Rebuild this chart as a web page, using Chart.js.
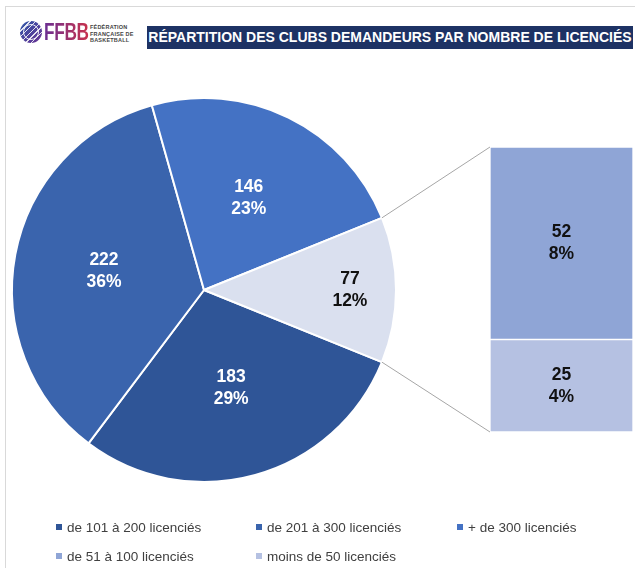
<!DOCTYPE html>
<html>
<head>
<meta charset="utf-8">
<script src="https://cdn.jsdelivr.net/npm/chart.js@4/dist/chart.umd.min.js"></script>
<style>
  body { margin: 0; background: #fff; }
  #wrap { position: relative; width: 635px; height: 568px; background: #fff; overflow: hidden; font-family: "Liberation Sans", Arial, sans-serif; }
  .frameTop { position: absolute; left: 5px; right: 0; top: 6px; height: 1px; background: #d9d9d9; }
  .frameLeft { position: absolute; left: 5px; top: 6px; bottom: 0; width: 1px; background: #d9d9d9; }
  .ball { position: absolute; left: 20px; top: 21px; width: 22px; height: 22px; border-radius: 50%;
    background: repeating-linear-gradient(135deg, rgba(255,255,255,0) 0 3px, rgba(255,255,255,.85) 3px 4px), linear-gradient(135deg, #2d57a8, #6b3192); }
  .ball::after { content: ""; position: absolute; left: 3px; top: 3px; width: 14px; height: 14px; border-radius: 50%; border: 1px solid rgba(255,255,255,.9); }
  .ffbb { position: absolute; left: 44px; top: 18px; font-weight: bold; font-size: 24px; letter-spacing: -0.5px;
    transform: scaleX(0.72); transform-origin: left top;
    background: linear-gradient(90deg, #6a2f93, #c8324c); -webkit-background-clip: text; background-clip: text; color: transparent; }
  .fed { position: absolute; left: 90px; top: 24px; font-size: 5.5px; font-weight: bold; line-height: 6.6px; color: #444; letter-spacing: .2px; }
  .title { position: absolute; left: 147px; top: 26px; width: 486px; height: 23px; background: #1d3264; color: #fff;
    font-weight: bold; font-size: 14px; line-height: 23px; text-align: center; white-space: nowrap; }
  #pie { position: absolute; left: 0; top: 0; }
  #bar { position: absolute; left: 490px; top: 147px; }
  #legend { position: absolute; left: 56px; top: 518px; display: grid; grid-template-columns: 200px 201px 170px; row-gap: 11px;
    font-size: 13.5px; color: #404040; }
  #legend div { display: flex; align-items: center; height: 18px; white-space: nowrap; }
  #legend span.box { width: 6px; height: 6px; margin-right: 5px; display: inline-block; }
</style>
</head>
<body>
<div id="wrap">
  <div class="frameTop"></div>
  <div class="frameLeft"></div>
  <div class="ball"></div>
  <div class="ffbb">FFBB</div>
  <div class="fed">FÉDÉRATION<br>FRANÇAISE DE<br>BASKETBALL</div>
  <div class="title">RÉPARTITION DES CLUBS DEMANDEURS PAR NOMBRE DE LICENCIÉS</div>
  <canvas id="pie" width="635" height="568"></canvas>
  <canvas id="bar" width="143" height="285"></canvas>
  <div id="legend"></div>
</div>
<script>
// main pie
const mainLabels = ['de 101 à 200 licenciés', 'de 201 à 300 licenciés', '+ de 300 licenciés'];
const mainValues = [183, 222, 146];
const mainPct = ['29%', '36%', '23%'];
const mainColors = ['#2f5597', '#3a64ad', '#4472c4'];

// split-off part (shown as the stacked bar on the right)
const otherLabels = ['de 51 à 100 licenciés', 'moins de 50 licenciés'];
const otherValues = [52, 25];
const otherPct = ['8%', '4%'];
const otherColors = ['#8fa5d6', '#b5c1e2'];
const otherSlicePct = '12%';
const otherSliceColor = '#dae0ef';

const otherSum = otherValues[0] + otherValues[1];
const total = mainValues.reduce((a, b) => a + b, 0) + otherSum;

const labelFont = 'bold 17.5px "Liberation Sans", Arial, sans-serif';

function drawTwoLines(ctx, x, y, l1, l2, color) {
  ctx.save();
  ctx.font = labelFont;
  ctx.fillStyle = color;
  ctx.textAlign = 'center';
  ctx.textBaseline = 'middle';
  ctx.fillText(l1, x, y - 11);
  ctx.fillText(l2, x, y + 11);
  ctx.restore();
}

// bar of the split-off part (bottom segment first, chart.js stacks upward)
const barChart = new Chart(document.getElementById('bar'), {
  type: 'bar',
  data: {
    labels: ['Autre'],
    datasets: [
      { label: otherLabels[1], data: [otherValues[1]], backgroundColor: otherColors[1], pct: otherPct[1] },
      { label: otherLabels[0], data: [otherValues[0]], backgroundColor: otherColors[0], pct: otherPct[0] }
    ]
  },
  options: {
    responsive: false,
    animation: false,
    layout: { padding: 0 },
    datasets: { bar: { barPercentage: 1, categoryPercentage: 1, borderColor: '#fff', borderWidth: 1, borderSkipped: false } },
    scales: {
      x: { stacked: true, display: false },
      y: { stacked: true, display: false, min: 0, max: otherSum }
    },
    plugins: { legend: { display: false }, tooltip: { enabled: false } }
  },
  plugins: [{
    id: 'barLabels',
    afterDatasetsDraw(chart) {
      chart.data.datasets.forEach((ds, i) => {
        const el = chart.getDatasetMeta(i).data[0];
        drawTwoLines(chart.ctx, el.x, (el.y + el.base) / 2, String(ds.data[0]), ds.pct, '#111');
      });
    }
  }]
});

// pie: the split-off slice is centred on the right (3 o'clock)
const pieChart = new Chart(document.getElementById('pie'), {
  type: 'pie',
  data: {
    labels: [...mainLabels, 'Autre'],
    datasets: [{
      data: [...mainValues, otherSum],
      backgroundColor: [...mainColors, otherSliceColor],
      borderColor: '#fff',
      borderWidth: 2
    }]
  },
  options: {
    responsive: false,
    animation: false,
    rotation: 90 + otherSum / total * 180,
    radius: 192,
    layout: { padding: { left: 12, top: 98, right: 239, bottom: 86 } },
    plugins: { legend: { display: false }, tooltip: { enabled: false } }
  },
  plugins: [{
    id: 'pieLabels',
    afterDatasetsDraw(chart) {
      const ctx = chart.ctx;
      const meta = chart.getDatasetMeta(0);
      const pcts = [...mainPct, otherSlicePct];
      meta.data.forEach((arc, i) => {
        const p = arc.getProps(['x', 'y', 'startAngle', 'endAngle', 'outerRadius']);
        const mid = (p.startAngle + p.endAngle) / 2;
        const f = i === 3 ? 0.76 : 0.53;
        const x = p.x + Math.cos(mid) * p.outerRadius * f;
        const y = p.y + Math.sin(mid) * p.outerRadius * f;
        drawTwoLines(ctx, x, y, String(chart.data.datasets[0].data[i]), pcts[i], i === 3 ? '#111' : '#fff');
      });

      // connector lines from the split-off slice to the bar
      const arc = meta.data[3].getProps(['x', 'y', 'startAngle', 'endAngle', 'outerRadius']);
      const bx = barChart.canvas.offsetLeft, by = barChart.canvas.offsetTop;
      const top = barChart.getDatasetMeta(1).data[0].getProps(['x', 'y', 'width']);
      const bot = barChart.getDatasetMeta(0).data[0].getProps(['x', 'base', 'width']);
      ctx.save();
      ctx.strokeStyle = '#a6a6a6';
      ctx.lineWidth = 1;
      ctx.beginPath();
      ctx.moveTo(arc.x + Math.cos(arc.startAngle) * arc.outerRadius, arc.y + Math.sin(arc.startAngle) * arc.outerRadius);
      ctx.lineTo(bx + top.x - top.width / 2, by + top.y);
      ctx.moveTo(arc.x + Math.cos(arc.endAngle) * arc.outerRadius, arc.y + Math.sin(arc.endAngle) * arc.outerRadius);
      ctx.lineTo(bx + bot.x - bot.width / 2, by + bot.base);
      ctx.stroke();
      ctx.restore();
    }
  }]
});

// legend
const legendLabels = [...mainLabels, ...otherLabels];
const legendColors = [...mainColors, ...otherColors];
const legendEl = document.getElementById('legend');
legendLabels.forEach((lab, i) => {
  const item = document.createElement('div');
  const box = document.createElement('span');
  box.className = 'box';
  box.style.background = legendColors[i];
  item.appendChild(box);
  item.appendChild(document.createTextNode(lab));
  legendEl.appendChild(item);
});
</script>
</body>
</html>
